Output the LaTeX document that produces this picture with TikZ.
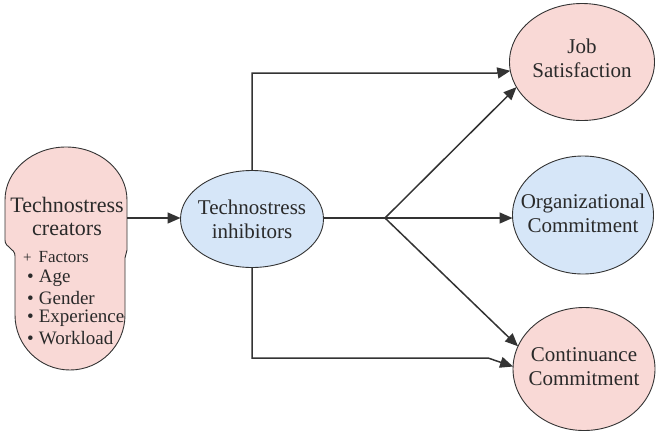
\documentclass[tikz,border=0pt]{standalone}
\usepackage{fontspec}
\setmainfont{Liberation Serif}
\usetikzlibrary{shapes.geometric,arrows.meta}
\definecolor{pinkf}{HTML}{F9D9D6}
\definecolor{bluef}{HTML}{D6E6F8}
\definecolor{ink}{HTML}{2A2A2A}
\definecolor{linec}{HTML}{333333}
\tikzset{
  oval/.style={ellipse,draw=linec,line width=0.9pt,inner sep=0pt,outer sep=0pt},
  txt/.style={text=ink,align=center,inner sep=0pt,font=\fontsize{21}{24}\selectfont},
  arr/.style={draw=linec,line width=1.5pt,-{Triangle[length=13pt,width=11pt]}},
  ln/.style={draw=linec,line width=1.5pt},
  item/.style={anchor=west,inner sep=0pt,text=ink,font=\fontsize{19}{20}\selectfont}
}
\begin{document}
\begin{tikzpicture}[x=1pt,y=-1pt]
\useasboundingbox (0,0) rectangle (661,437);
% creators shape
\draw[fill=pinkf,draw=linec,line width=0.9pt]
  (5,240) -- (5,200) arc[start angle=180,end angle=360,x radius=61,y radius=53]
  -- (127,250) -- (125,258) -- (125,315)
  arc[start angle=0,end angle=180,x radius=55,y radius=55]
  -- (15,256) .. controls (15,248) and (5,248) .. (5,240) -- cycle;
\node[text=ink,align=center,font=\fontsize{22}{23}\selectfont,inner sep=0pt] (cr) at (67,216) {Technostress\\creators};
\coordinate (crE) at (127,218);
\node[item,font=\fontsize{15}{18}\selectfont] (f0) at (23,257) {+\hspace{7pt}{\fontsize{17}{18}\selectfont Factors}};
\node[item] (f1) at (27,278) {•\hspace{5pt}Age};
\node[item] (f2) at (27,298) {•\hspace{5pt}Gender};
\node[item] (f3) at (27,318) {•\hspace{5pt}Experience};
\node[item] (f4) at (27,338) {•\hspace{5pt}Workload};
% ovals
\node[oval,fill=bluef,minimum width=143pt,minimum height=97pt] (inh) at (252,219) {};
\node[txt] at (inh) {Technostress\\inhibitors};
\node[oval,fill=pinkf,minimum width=145pt,minimum height=117pt] (js) at (582,62) {};
\node[txt] at ([yshift=4pt]js.center) {Job\\Satisfaction};
\node[oval,fill=bluef,minimum width=141pt,minimum height=118pt] (oc) at (583,215) {};
\node[txt] at ([yshift=2pt]oc.center) {Organizational\\Commitment};
\node[oval,fill=pinkf,minimum width=142pt,minimum height=123pt] (cc) at (584,369) {};
\node[txt] at ([yshift=2pt]cc.center) {Continuance\\Commitment};
% connectors
\draw[arr] (crE) -- (crE -| inh.west);
\coordinate (br) at (385,218);
\draw[ln] (inh.east |- br) -- (br);
\draw[arr] (br) -- (br -| oc.west);
\draw[arr] (br) -- (js.201);
\draw[arr] (br) -- (cc.161);
\draw[arr] (inh.north) -- (252,73) -- (497,73) -- (js.187);
\draw[arr] (inh.south) -- (252,358) -- (488,358) -- (cc.178);
\end{tikzpicture}
\end{document}
